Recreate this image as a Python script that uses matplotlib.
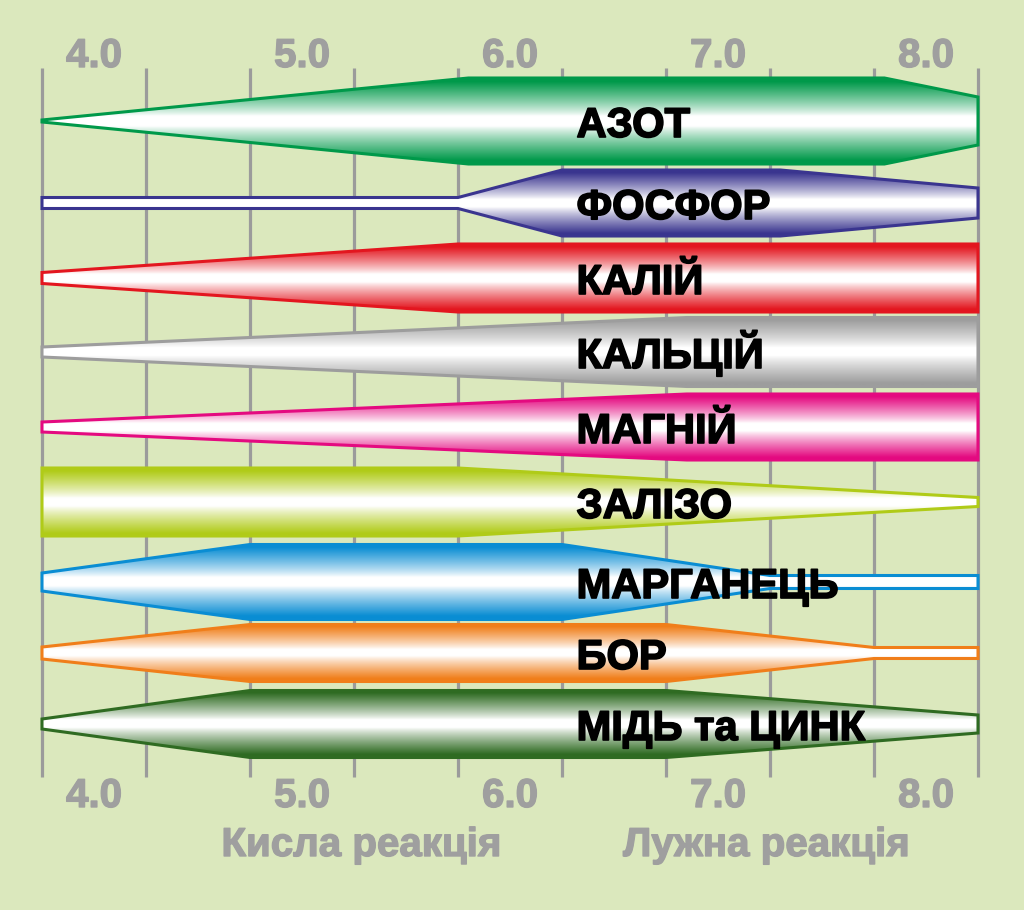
import numpy as np
import matplotlib.pyplot as plt
import matplotlib.patheffects as pe
from matplotlib.patches import Polygon
from matplotlib.colors import to_rgb

plt.rcParams['font.family'] = ['Liberation Sans', 'DejaVu Sans']

# Назви елементів та кольори смуг
elementy = ['АЗОТ', 'ФОСФОР', 'КАЛІЙ', 'КАЛЬЦІЙ', 'МАГНІЙ',
            'ЗАЛІЗО', 'МАРГАНЕЦЬ', 'БОР', 'МІДЬ та ЦИНК']
kolory = ['#00994a', '#3a358f', '#e3161f', '#9d9d9d', '#e40a80',
          '#b0cb18', '#0a8dd3', '#f07e1a', '#2f6b22']

# Профілі доступності: точки pH та півширина смуги
ph_tochky = [
    [3.75, 5.8, 7.8, 8.25],
    [3.75, 5.75, 6.25, 7.3, 8.25],
    [3.75, 5.75, 8.25],
    [3.75, 6.85, 8.25],
    [3.75, 6.85, 8.25],
    [3.75, 5.75, 8.25],
    [3.75, 4.75, 6.25, 7.25, 8.25],
    [3.75, 4.75, 6.75, 7.75, 8.25],
    [3.75, 4.75, 6.75, 8.25],
]
shyryna = [
    [1, 43, 43, 24],
    [5.5, 5.5, 33, 33, 15],
    [5.5, 34, 34],
    [5, 34.5, 34.5],
    [5, 33, 33],
    [34, 34, 4.5],
    [9, 37.5, 37.5, 6.5, 6.5],
    [6, 28.5, 28.5, 5.5, 5.5],
    [5, 33.5, 33.5, 9],
]

ph_pidpysy = [4.0, 5.0, 6.0, 7.0, 8.0]
ph_linii = np.arange(3.75, 8.26, 0.5)

# Розташування рядків (у пікселях від верху)
centry = [121, 203, 278, 352, 427, 502, 582, 653, 724]

fon = '#dbe8bd'
siryi = '#9b9b9b'
sirtekst = '#9f9f9f'

fig = plt.figure(figsize=(10.24, 9.10), dpi=100, facecolor=fon)
ax = fig.add_axes([0, 0, 1, 1])
ax.set_facecolor(fon)
x0 = 3.75 - 42 / 208
x1 = 3.75 + (1024 - 42) / 208
ax.set_xlim(x0, x1)
ax.set_ylim(910, 0)
ax.axis('off')

# Вертикальні лінії сітки
ax.vlines(ph_linii, 68, 777, color=siryi, lw=2.3, zorder=1)

# Градієнт: насичений колір по краях, білий у центрі
t = np.abs(np.linspace(-1, 1, 300))
f = np.clip((t - 0.12) / 0.8, 0, 1) ** 0.85

for name, c, xs, hs, yc in zip(elementy, kolory, ph_tochky, shyryna, centry):
    xs = np.array(xs)
    hs = np.array(hs)
    verh = np.column_stack([xs, yc - hs])
    nyz = np.column_stack([xs[::-1], yc + hs[::-1]])
    pts = np.vstack([verh, nyz])
    H = hs.max()
    rgb = 1 - f[:, None] * (1 - np.array(to_rgb(c)))
    img = np.repeat(rgb[:, None, :], 2, axis=1)
    im = ax.imshow(img, extent=(xs[0], xs[-1], yc + H, yc - H),
                   aspect='auto', interpolation='bilinear', zorder=2)
    poly = Polygon(pts, closed=True, facecolor='none', edgecolor=c,
                   lw=2.2, joinstyle='miter', zorder=3)
    ax.add_patch(poly)
    im.set_clip_path(poly)
    ax.text(6.32, yc + 16, name, fontsize=30, fontweight='bold',
            color='black', ha='left', va='baseline', zorder=4,
            path_effects=[pe.withStroke(linewidth=1.2, foreground='black')])

# Підписи pH зверху та знизу
obvidka = [pe.withStroke(linewidth=1.0, foreground=sirtekst)]
for p in ph_pidpysy:
    ax.text(p, 67, f'{p:.1f}', fontsize=29, fontweight='bold', color=sirtekst,
            ha='center', va='baseline', path_effects=obvidka)
    ax.text(p, 807, f'{p:.1f}', fontsize=29, fontweight='bold', color=sirtekst,
            ha='center', va='baseline', path_effects=obvidka)

ax.text(3.75 + (361 - 42) / 208, 856, 'Кисла реакція', fontsize=29,
        fontweight='bold', color=sirtekst, ha='center', va='baseline',
        path_effects=obvidka)
ax.text(3.75 + (766 - 42) / 208, 856, 'Лужна реакція', fontsize=29,
        fontweight='bold', color=sirtekst, ha='center', va='baseline',
        path_effects=obvidka)

fig.savefig('out.png', dpi=100, facecolor=fon)
